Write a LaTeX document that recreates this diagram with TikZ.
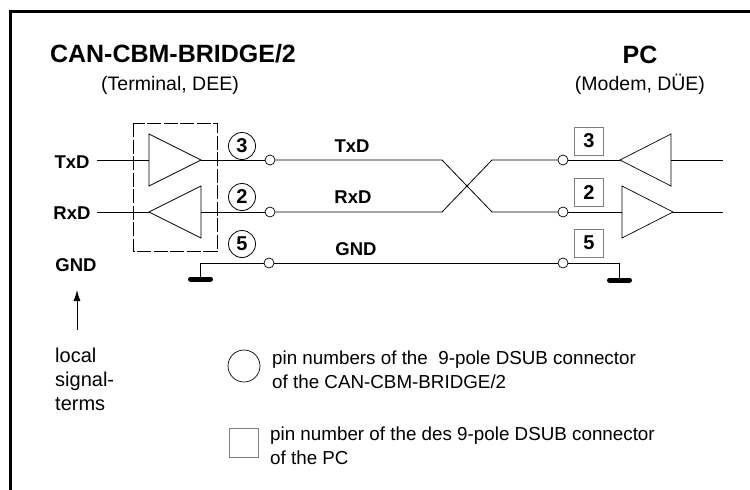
\documentclass[tikz,border=0pt]{standalone}
\usepackage{fontspec}
\setmainfont{Liberation Sans}
\usetikzlibrary{arrows.meta}

\begin{document}
\begin{tikzpicture}[x=1pt,y=-1pt]
  \tikzstyle{every node}+=[inner sep=0pt]
  \tikzstyle{wire}=[black, line width=0.8pt]
  \tikzstyle{amp}=[black, line width=0.7pt, line join=miter]
  \tikzstyle{dashbox}=[black, line width=0.8pt, dash pattern=on 14pt off 2.5pt]
  \tikzstyle{term}=[draw, circle, fill=white, minimum size=10pt, line width=0.7pt]
  \tikzstyle{pinc}=[draw, circle, minimum size=27pt, line width=0.8pt, font=\fontsize{20}{22}\bfseries]
  \tikzstyle{pinq}=[draw=gray, minimum width=29pt, minimum height=28pt, line width=1pt, font=\fontsize{20}{22}\bfseries]
  \tikzstyle{sig}=[anchor=base, font=\fontsize{18.5}{20}\bfseries]
  \tikzstyle{gndbar}=[line width=5pt, line cap=round]
  \tikzstyle{legend}=[anchor=base west, align=left, font=\fontsize{18.8}{24}\selectfont]
  \useasboundingbox (0,0) rectangle (750,490);
  % frame
  \draw [line width=3pt] (10.5,490) -- (10.5,11.5) -- (750,11.5);
  % CAN-CBM-BRIDGE/2 side
  \node [anchor=base, font=\fontsize{25}{28}\bfseries] (ttl) at (173,62) {CAN-CBM-BRIDGE/2};
  \node [anchor=base, font=\fontsize{19.5}{22}\selectfont] (ttlsub) at (170,90) {(Terminal, DEE)};
  \node [sig] (ltxd) at (72,168) {TxD};
  \node [sig] (lrxd) at (72,219) {RxD};
  \node [sig] (lgnd) at (76,271) {GND};
  \coordinate (ltxs) at (97,160);
  \coordinate (lrxs) at (97,212);
  \coordinate (a1in) at (149,160);
  \coordinate (a1out) at (201,160);
  \coordinate (a2in) at (201,212);
  \coordinate (a2out) at (149,212);
  \draw [amp] (149,134) -- (201,160) -- (149,186) -- cycle;
  \draw [amp] (201,186) -- (149,212) -- (201,238) -- cycle;
  \draw [dashbox] (133,123) rectangle (217,251);
  \node [pinc] (p3) at (242,146) {3};
  \node [pinc] (p2) at (242,197) {2};
  \node [pinc] (p5) at (242,244) {5};
  \node [term] (lt3) at (270,160) {};
  \node [term] (lt2) at (270,212) {};
  \node [term] (lt5) at (269,263) {};
  \draw [wire] (ltxs) -- (a1in);
  \draw [wire] (a1out) -- (lt3);
  \draw [wire] (lrxs) -- (a2out);
  \draw [wire] (a2in) -- (lt2);
  \coordinate (lg1) at (200,263);
  \coordinate (lg2) at (200,279);
  \draw [wire] (lt5) -- (lg1) -- (lg2);
  \draw [gndbar] (190.5,279) -- (210.5,279);
  % cable
  \node [sig] (mtxd) at (352,152) {TxD};
  \node [sig] (mrxd) at (353,203) {RxD};
  \node [sig] (mgnd) at (356,255) {GND};
  \coordinate (x1) at (442,160);
  \coordinate (x2) at (492,160);
  \coordinate (x3) at (442,212);
  \coordinate (x4) at (492,212);
  \node [term] (rt3) at (563,160) {};
  \node [term] (rt2) at (563,212) {};
  \node [term] (rt5) at (563,263) {};
  \draw [wire] (lt3) -- (x1) -- (x4) -- (rt2);
  \draw [wire] (lt2) -- (x3) -- (x2) -- (rt3);
  \draw [wire] (lt5) -- (rt5);
  % PC side
  \node [anchor=base, font=\fontsize{25}{28}\bfseries] (pc) at (640,63) {PC};
  \node [anchor=base, font=\fontsize{19.5}{22}\selectfont] (pcsub) at (640,90) {(Modem, DÜE)};
  \node [pinq] (q3) at (589,141) {3};
  \node [pinq] (q2) at (589,192.5) {2};
  \node [pinq] (q5) at (589,243) {5};
  \coordinate (b1in) at (671,160);
  \coordinate (b1out) at (620,160);
  \coordinate (b2in) at (622,212);
  \coordinate (b2out) at (673,212);
  \coordinate (rtxe) at (723,160);
  \coordinate (rrxe) at (723,212);
  \draw [amp] (671,134) -- (620,160) -- (671,186) -- cycle;
  \draw [amp] (622,186) -- (673,212) -- (622,238) -- cycle;
  \draw [wire] (rt3) -- (b1out);
  \draw [wire] (b1in) -- (rtxe);
  \draw [wire] (rt2) -- (b2in);
  \draw [wire] (b2out) -- (rrxe);
  \coordinate (rg1) at (619,263);
  \coordinate (rg2) at (619,280);
  \draw [wire] (rt5) -- (rg1) -- (rg2);
  \draw [gndbar] (609.5,280) -- (629.5,280);
  % local signal terms
  \coordinate (arrtail) at (77,330);
  \coordinate (arrtip) at (77,290);
  \draw [wire, -{Latex[length=11pt,width=7pt]}] (arrtail) -- (arrtip);
  \node [legend, font=\fontsize{20}{24}\selectfont] (lsig) at (55,410) {local\\signal-\\terms};
  % legend
  \node [draw, circle, minimum size=32pt, line width=0.7pt] (lgc) at (244,366) {};
  \node [legend] (lgct) at (272,388) {pin numbers of the\ \ 9-pole DSUB connector\\of the CAN-CBM-BRIDGE/2};
  \node [draw=gray, minimum size=29pt, line width=1pt] (lgq) at (243.5,442.5) {};
  \node [legend] (lgqt) at (270,464) {pin number of the des 9-pole DSUB connector\\of the PC};
\end{tikzpicture}
\end{document}
